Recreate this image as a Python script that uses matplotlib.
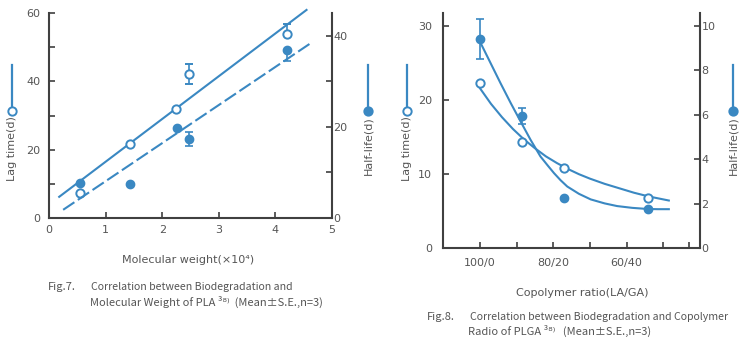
import numpy as np
import matplotlib
matplotlib.use("Agg")
import matplotlib.pyplot as plt
from matplotlib.lines import Line2D

plt.rcParams['font.family'] = ['DejaVu Sans']

# ---- Fig.7 data (PLA) ----
mw_lag = [0.55, 1.43, 2.25, 2.47, 4.2]
lag7 = [7.2, 21.7, 32.0, 42.1, 54.0]
lag7_err_lo = [0, 0, 0, 2.9, 0]
lag7_err_hi = [0, 0, 0, 2.9, 2.8]

mw_half = [0.55, 1.43, 2.27, 2.47, 4.2]
half7 = [7.6, 7.5, 19.8, 17.3, 36.9]
half7_err_lo = [0, 0, 0, 1.5, 2.5]
half7_err_hi = [0, 0, 0, 1.5, 0]

lag7_fit_x = [0.18, 4.55]
lag7_fit_y = [6.2, 60.9]
half7_fit_x = [0.25, 4.65]
half7_fit_y = [1.8, 38.6]

# ---- Fig.8 data (PLGA) ----
la_pts = [100, 88.5, 77.1, 54.1]
lag8 = [22.3, 14.3, 10.8, 6.8]
half8 = [9.41, 5.95, 2.25, 1.75]
half8_err = [0.9, 0.38, 0, 0]

# fitted curves
lag8_curve_x = [100, 97, 94, 91, 88, 85, 82, 79, 76, 73, 70, 66, 62, 58, 54, 51, 48.5]
lag8_curve_y = [21.6, 19.5, 17.7, 16.1, 14.7, 13.5, 12.4, 11.5, 10.7, 10.0, 9.4, 8.7,
                8.1, 7.5, 7.0, 6.7, 6.45]
half8_curve_x = [99.8, 97.1, 94.4, 91.6, 88.9, 86.2, 83.5, 81.5, 79.8, 78.0, 76.2, 73.0,
                 69.8, 66.0, 62.6, 58.5, 54.4, 51.5, 48.5]
half8_curve_y = [9.23, 8.33, 7.43, 6.53, 5.70, 4.88, 4.13, 3.72, 3.38, 3.06, 2.78, 2.45,
                 2.2, 2.02, 1.9, 1.82, 1.77, 1.76, 1.76]

x8_ticks = [100, 90, 80, 70, 60, 50, 43]
x8_labels = ['100/0', '', '80/20', '', '60/40', '', '']

blue = '#3a88c2'
text_c = '#555555'
spine_c = '#404040'
W, H = 745, 344

fig = plt.figure(figsize=(W / 100, H / 100), dpi=100)


def style(ax, side):
    for s in ax.spines.values():
        s.set_visible(False)
    for s in side:
        ax.spines[s].set_visible(True)
        ax.spines[s].set_color(spine_c)
        ax.spines[s].set_linewidth(1.5)
    ax.tick_params(direction='in', length=4, width=1.2, colors=spine_c,
                   labelcolor=text_c, labelsize=8)


def side_label(x, text, filled):
    fig.text(x / W, 1 - 116 / H, text, rotation=90, ha='center', va='top',
             fontsize=8, color=text_c)
    fig.add_artist(Line2D([x / W, x / W], [1 - 65 / H, 1 - 106 / H],
                          transform=fig.transFigure, color=blue, lw=1.6))
    fig.add_artist(Line2D([x / W], [1 - 111 / H], transform=fig.transFigure,
                          marker='o', ms=6, mew=1.4, mec=blue,
                          mfc=blue if filled else 'white', ls='none'))


# ---------- Fig.7 ----------
ax1 = fig.add_axes([49 / W, 1 - 218 / H, 283 / W, 205 / H])
ax1r = ax1.twinx()
style(ax1, ['left', 'bottom'])
style(ax1r, ['right'])
ax1.set_xlim(0, 5)
ax1.set_ylim(0, 60)
ax1r.set_ylim(0, 45)
ax1.set_xticks(range(6))
ax1.set_yticks(range(0, 61, 10), ['0', '', '20', '', '40', '', '60'])
ax1r.set_yticks(range(0, 41, 10), ['0', '', '20', '', '40'])
ax1.tick_params(axis='x', pad=5)
ax1.tick_params(axis='y', pad=6)
ax1r.tick_params(axis='y', pad=1)

ax1.plot(lag7_fit_x, lag7_fit_y, color=blue, lw=1.5, clip_on=False)
ax1r.plot(half7_fit_x, half7_fit_y, color=blue, lw=1.5, ls=(0, (6.5, 2)), clip_on=False)
ax1.errorbar(mw_lag, lag7, yerr=[lag7_err_lo, lag7_err_hi], fmt='o', ms=6,
             mfc='white', mec=blue, mew=1.4, ecolor=blue, elinewidth=1.2,
             capsize=3, capthick=1.2, zorder=5, clip_on=False)
ax1r.errorbar(mw_half, half7, yerr=[half7_err_lo, half7_err_hi], fmt='o', ms=6,
              mfc=blue, mec=blue, ecolor=blue, elinewidth=1.2,
              capsize=3, capthick=1.2, zorder=5, clip_on=False)

side_label(12, 'Lag time(d)', False)
side_label(368, 'Half-life(d)', True)

fig.text(188 / W, 1 - 260 / H, 'Molecular weight(×10⁴)', ha='center', va='center',
         fontsize=8, color=text_c)
cap_font = ['Noto Sans CJK JP', 'DejaVu Sans']
fig.text(48 / W, 1 - 287 / H, 'Fig.7.', ha='left', va='center', fontsize=8,
         color=text_c, family=cap_font)
fig.text(91 / W, 1 - 287 / H, 'Correlation between Biodegradation and', ha='left',
         va='center', fontsize=7.6, color=text_c, family=cap_font)
fig.text(90 / W, 1 - 302 / H, 'Molecular Weight of PLA ³⁸⁾  (Mean±S.E.,n=3)', ha='left',
         va='center', fontsize=8, color=text_c, family=cap_font)

# ---------- Fig.8 ----------
ax2 = fig.add_axes([443.3 / W, 1 - 248.3 / H, 256.7 / W, 235.6 / H])
ax2r = ax2.twinx()
style(ax2, ['left', 'bottom'])
style(ax2r, ['right'])
ax2.set_xlim(110, 40)
ax2.set_ylim(0, 31.8)
ax2r.set_ylim(0, 10.6)
ax2.set_xticks(x8_ticks, x8_labels)
ax2.set_yticks([0, 10, 20, 30])
ax2r.set_yticks(range(0, 11, 2))
ax2.tick_params(axis='x', pad=7)
ax2.tick_params(axis='y', pad=8)
ax2r.tick_params(axis='y', pad=1)

ax2.plot(lag8_curve_x, lag8_curve_y, color=blue, lw=1.5)
ax2r.plot(half8_curve_x, half8_curve_y, color=blue, lw=1.5)
ax2.plot(la_pts, lag8, 'o', ms=6, mfc='white', mec=blue, mew=1.4, zorder=5)
ax2r.errorbar(la_pts, half8, yerr=half8_err, fmt='o', ms=6, mfc=blue, mec=blue,
              ecolor=blue, elinewidth=1.2, capsize=3, capthick=1.2, zorder=5)

side_label(407, 'Lag time(d)', False)
side_label(733, 'Half-life(d)', True)

fig.text(582 / W, 1 - 293 / H, 'Copolymer ratio(LA/GA)', ha='center', va='center',
         fontsize=8, color=text_c)
fig.text(427 / W, 1 - 317 / H, 'Fig.8.', ha='left', va='center', fontsize=8,
         color=text_c, family=cap_font)
fig.text(470 / W, 1 - 317 / H, 'Correlation between Biodegradation and Copolymer',
         ha='left', va='center', fontsize=7.6, color=text_c, family=cap_font)
fig.text(468 / W, 1 - 331 / H, 'Radio of PLGA ³⁸⁾   (Mean±S.E.,n=3)', ha='left',
         va='center', fontsize=8, color=text_c, family=cap_font)

fig.savefig('out.png', dpi=100)
